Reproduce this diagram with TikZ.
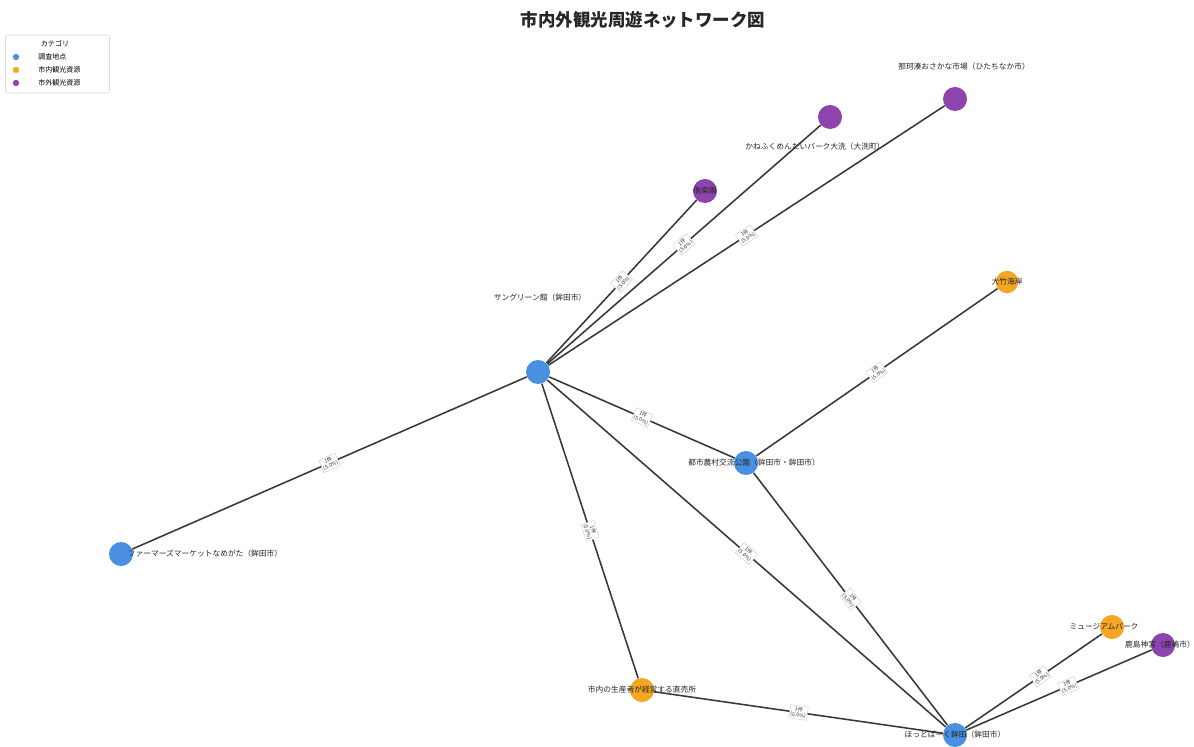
\documentclass[tikz,border=0pt]{standalone}
\usepackage{fontspec}
\setmainfont{Noto Sans CJK JP}
\pgfdeclarelayer{bglayer}
\pgfdeclarelayer{edgelayer}
\pgfsetlayers{bglayer,edgelayer,main}
\definecolor{cblue}{HTML}{4A90E2}
\definecolor{corange}{HTML}{F5A623}
\definecolor{cpurple}{HTML}{8E44AD}
\tikzset{
  vtx/.style={circle, minimum size=0.6cm, inner sep=0pt, draw=none},
  spot/.style={vtx, fill=cblue},
  inres/.style={vtx, fill=corange},
  outres/.style={vtx, fill=cpurple},
  nlabel/.style={font=\fontsize{5.5}{6}\selectfont, inner sep=0pt, text=black!85},
  link/.style={draw=black!78, line width=1.1pt},
  elabel/.style={sloped, fill=white, draw=black!25, line width=0.2pt, font=\fontsize{3.7}{4.1}\selectfont, inner sep=0.8pt, align=center, text=black!80},
  legmark/.style={circle, minimum size=0.16cm, inner sep=0pt},
  legtext/.style={anchor=west, font=\fontsize{5}{6}\selectfont, inner sep=0pt},
}
\begin{document}
\begin{tikzpicture}[x=0.025cm, y=-0.025cm]
\useasboundingbox (0,0) rectangle (1194,747);
\begin{pgfonlayer}{bglayer}
\fill[white] (0,0) rectangle (1194,747);
\end{pgfonlayer}
% title
\node[font=\fontsize{12.4}{14}\selectfont\bfseries, text=black!85] (title) at (643,20) {市内外観光周遊ネットワーク図};
% vertices
\node[spot] (A) at (538,372) {};
\node[outres] (B) at (955,99) {};
\node[outres] (C) at (830,117) {};
\node[outres] (D) at (705,191) {};
\node[inres, minimum size=0.56cm] (E) at (1007,282) {};
\node[spot] (F) at (746,463) {};
\node[spot] (G) at (121,554) {};
\node[inres] (H) at (642,690) {};
\node[spot] (I) at (955,735) {};
\node[inres] (J) at (1112,627) {};
\node[outres] (K) at (1163,645) {};
% labels
\node[nlabel] (lA) at (540,298) {サングリーン館（鉾田市）};
\node[nlabel] (lB) at (964,67) {那珂湊おさかな市場（ひたちなか市）};
\node[nlabel] (lC) at (815,147) {かねふくめんたいパーク大洗（大洗町）};
\node[nlabel] (lD) at (705,191) {偕楽園};
\node[nlabel] (lE) at (1007,282) {大竹海岸};
\node[nlabel] (lF) at (754,463) {都市農村交流公園（鉾田市・鉾田市）};
\node[nlabel] (lG) at (205,554) {ファーマーズマーケットなめがた（鉾田市）};
\node[nlabel] (lH) at (642,690) {市内の生産者が経営する直売所};
\node[nlabel] (lI) at (955,735) {ほっとぱーく鉾田（鉾田市）};
\node[nlabel] (lJ) at (1104,627) {ミュージアムパーク};
\node[nlabel] (lK) at (1160,645) {鹿島神宮（鹿嶋市）};
% edges
\begin{pgfonlayer}{edgelayer}
\draw[link] (A) -- node[elabel] (eAD) {1件\\(5.0\%)} (D);
\draw[link] (A) -- node[elabel] (eAC) {1件\\(5.0\%)} (C);
\draw[link] (A) -- node[elabel] (eAB) {1件\\(5.0\%)} (B);
\draw[link] (A) -- node[elabel] (eAG) {1件\\(5.0\%)} (G);
\draw[link] (A) -- node[elabel] (eAF) {1件\\(5.0\%)} (F);
\draw[link] (A) -- node[elabel] (eAH) {1件\\(5.0\%)} (H);
\draw[link] (A) -- node[elabel] (eAI) {1件\\(5.0\%)} (I);
\draw[link] (F) -- node[elabel] (eFE) {1件\\(5.0\%)} (E);
\draw[link] (F) -- node[elabel] (eFI) {1件\\(5.0\%)} (I);
\draw[link] (H) -- node[elabel] (eHI) {1件\\(5.0\%)} (I);
\draw[link] (I) -- node[elabel, pos=0.55] (eIJ) {1件\\(5.0\%)} (J);
\draw[link] (I) -- node[elabel, pos=0.55] (eIK) {1件\\(5.0\%)} (K);
\end{pgfonlayer}
% legend
\node[draw=black!15, fill=white, rounded corners=1.5pt, minimum width=2.6cm, minimum height=1.45cm, inner sep=0pt] (leg) at (57.5,64) {};
\node[font=\fontsize{5}{6}\selectfont, inner sep=0pt] (legt) at (55,44) {カテゴリ};
\node[legmark, fill=cblue] (m1) at (16,57) {};
\node[legmark, fill=corange] (m2) at (16,70) {};
\node[legmark, fill=cpurple] (m3) at (16,83) {};
\node[legtext] (t1) at (38,57) {調査地点};
\node[legtext] (t2) at (38,70) {市内観光資源};
\node[legtext] (t3) at (38,83) {市外観光資源};
\end{tikzpicture}
\end{document}
